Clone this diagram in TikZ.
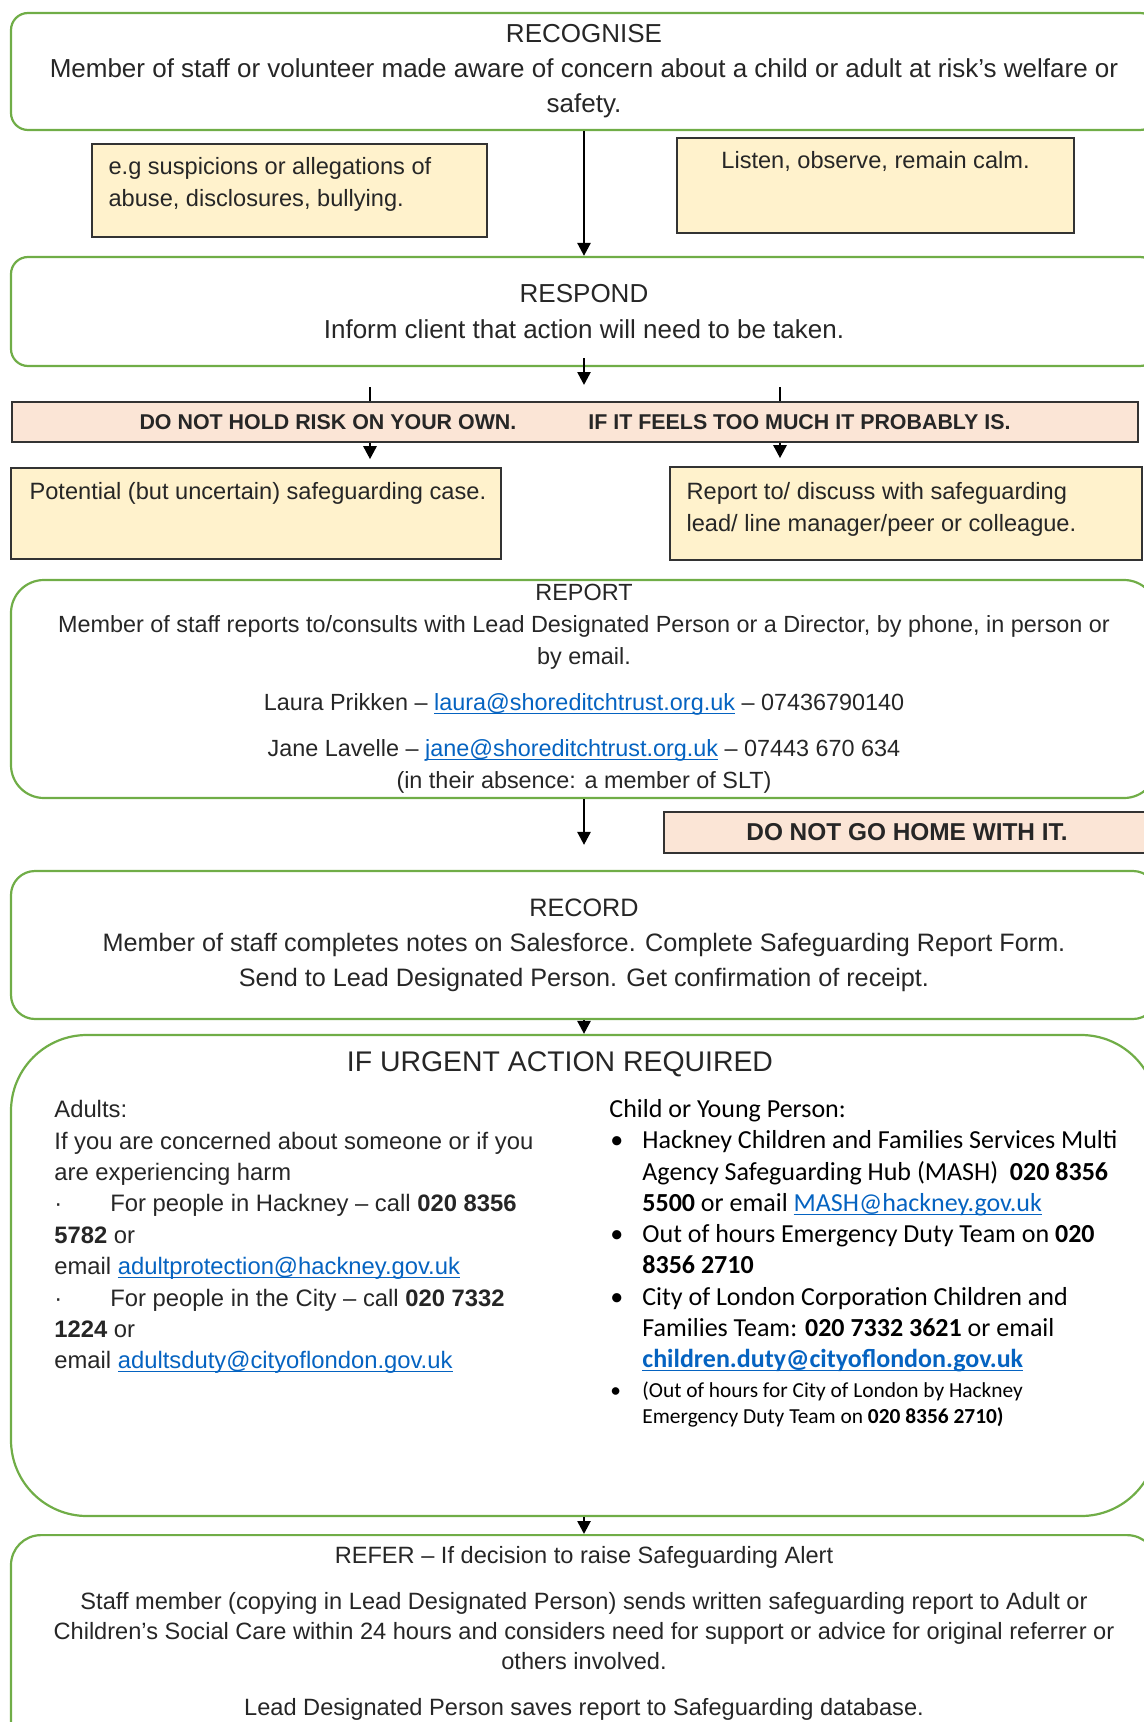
\documentclass[tikz,border=0pt]{standalone}
\usepackage{fontspec}
\setmainfont{Liberation Sans}
\newfontfamily\calibrifont{Carlito}
\usepackage{tikz}
\usetikzlibrary{arrows.meta,positioning,calc}
\definecolor{stagegreen}{HTML}{70AD47}
\definecolor{noteyellow}{HTML}{FFF2CC}
\definecolor{warnpink}{HTML}{FBE5D6}
\definecolor{linkblue}{HTML}{0563C1}
\definecolor{inktext}{HTML}{262626}
\newsavebox{\linkbox}
\newcommand{\maillink}[1]{\sbox{\linkbox}{\color{linkblue}#1}\textcolor{linkblue}{\rlap{\rule[-1.7pt]{\wd\linkbox}{0.6pt}}\usebox{\linkbox}}}
\newcommand{\listbullet}{\makebox[16.5pt][l]{\hspace{0.5pt}•}}
\newcommand{\listindent}{\hspace*{16.5pt}}
\tikzset{
    stagebox/.style={draw=stagegreen, line width=1.1pt, rounded corners=8.5pt, minimum width=573pt, inner sep=0pt, align=center, text=inktext},
    notebox/.style={draw=black!80, line width=0.8pt, fill=noteyellow, inner sep=0pt},
    notetext/.style={inner sep=0pt, align=left, text=inktext, font=\fontsize{11.8}{16}\selectfont},
    warnbox/.style={draw=black!80, line width=0.8pt, fill=warnpink, inner sep=0pt, text=inktext},
    flow/.style={-{Triangle[width=6.5pt,length=6.5pt]}, line width=1.3pt, black}
}
\begin{document}
\begin{tikzpicture}[x=0.5pt,y=-0.5pt]
    %Page frame - one unit is one pixel of the sheet, y runs down%
    %===========================================================
    \useasboundingbox (0,0) rectangle (1144,1722);
    \clip (0,0) rectangle (1144,1722);
    %RECOGNISE stage%
    %===========================================================
    \node[stagebox, minimum height=58.5pt, font=\fontsize{13}{17.5}\selectfont] (recognise) at (584,71.5) {RECOGNISE\\Member of staff or volunteer made aware of concern about a child or adult at risk’s welfare or\\safety.};
    \node[notebox, minimum width=197.5pt, minimum height=46.5pt] (examples) at (289.5,190.5) {}; %Examples note
    \node[notetext, below right=7pt and 8.5pt of examples.north west] (examplestext) {e.g suspicions or allegations of\\abuse, disclosures, bullying.};
    \node[notebox, minimum width=198.5pt, minimum height=47.5pt] (listen) at (875.5,185.5) {}; %Behaviour note
    \node[notetext, below=7pt of listen.north] (listentext) {Listen, observe, remain calm.};
    %RESPOND stage%
    %===========================================================
    \node[stagebox, minimum height=54.5pt, font=\fontsize{13}{18}\selectfont] (respond) at (584,311.5) {RESPOND\\Inform client that action will need to be taken.};
    \draw[flow] (recognise) -- (respond);
    \coordinate (splittip) at (584,385); %End of the short arrow under RESPOND
    \draw[flow] ([yshift=4.5pt]respond.south) -- (splittip);
    %Risk bar and the two branches%
    \node[warnbox, minimum width=563pt, minimum height=20pt, font=\bfseries\fontsize{10.7}{12}\selectfont] (riskbar) at (575,422) {DO NOT HOLD RISK ON YOUR OWN.\hspace{36pt}IF IT FEELS TOO MUCH IT PROBABLY IS.};
    \coordinate (leftstub) at (370,387);
    \coordinate (rightstub) at (780,387);
    \node[notebox, minimum width=245pt, minimum height=45.5pt] (potential) at (256,513.5) {};
    \node[notetext, below right=7.5pt and 9.5pt of potential.north west] (potentialtext) {Potential (but uncertain) safeguarding case.};
    \node[notebox, minimum width=236pt, minimum height=46.5pt] (discuss) at (906,513.5) {};
    \node[notetext, below right=8pt and 8.5pt of discuss.north west] (discusstext) {Report to/ discuss with safeguarding\\lead/ line manager/peer or colleague.};
    \draw[line width=1.3pt] (leftstub) -- (leftstub |- riskbar.north);
    \draw[line width=1.3pt] (rightstub) -- (rightstub |- riskbar.north);
    \draw[flow, shorten >=4pt] (riskbar.south -| leftstub) -- (potential.north -| leftstub);
    \draw[flow, shorten >=4pt] (riskbar.south -| rightstub) -- (discuss.north -| rightstub);
    %REPORT stage%
    %===========================================================
    \node[stagebox, rounded corners=16.5pt, minimum height=109pt, font=\fontsize{11.7}{16}\selectfont] (report) at (584,689) {REPORT\\Member of staff reports to/consults with Lead Designated Person or a Director, by phone, in person or\\by email.\\[7pt]Laura Prikken – \maillink{laura@shoreditchtrust.org.uk} – 07436790140\\[7pt]Jane Lavelle – \maillink{jane@shoreditchtrust.org.uk} – 07443 670 634\\(in their absence: a member of SLT)};
    \node[warnbox, minimum width=243pt, minimum height=20.5pt, font=\bfseries\fontsize{12.2}{14}\selectfont] (gohome) at (907,832.5) {DO NOT GO HOME WITH IT.};
    %RECORD stage%
    %===========================================================
    \node[stagebox, rounded corners=12pt, minimum height=74pt, font=\fontsize{12.6}{17.5}\selectfont] (record) at (584,945) {RECORD\\Member of staff completes notes on Salesforce. Complete Safeguarding Report Form.\\Send to Lead Designated Person. Get confirmation of receipt.};
    \draw[flow, shorten >=12.5pt] (report) -- (record);
    %IF URGENT ACTION REQUIRED%
    %===========================================================
    \node[stagebox, rounded corners=38pt, minimum height=240.5pt] (urgent) at (584,1275.5) {};
    \draw[flow] (record) -- (urgent);
    \node[inner sep=0pt, text=inktext, font=\fontsize{14.2}{17}\selectfont] (urgenttitle) at (560,1064) {IF URGENT ACTION REQUIRED};
    \node[anchor=north west, inner sep=0pt, align=left, text=inktext, font=\fontsize{11.9}{15.7}\selectfont] (adultcol) at (54,1100) {Adults:\\
        If you are concerned about someone or if you\\
        are experiencing harm\\
        \makebox[28pt][l]{·}For people in Hackney – call \textbf{020 8356}\\
        \textbf{5782} or\\
        email \maillink{adultprotection@hackney.gov.uk}\\
        \makebox[28pt][l]{·}For people in the City – call \textbf{020 7332}\\
        \textbf{1224} or\\
        email \maillink{adultsduty@cityoflondon.gov.uk}};
    \node[anchor=north west, inner sep=0pt, align=left, text=black, font=\calibrifont\fontsize{13}{15.65}\selectfont] (childcol) at (609,1099) {Child or Young Person:\\
        \listbullet Hackney Children and Families Services Multi\\
        \listindent Agency Safeguarding Hub (MASH)\ \ \textbf{020 8356}\\
        \listindent\textbf{5500} or email \maillink{MASH@hackney.gov.uk}\\
        \listbullet Out of hours Emergency Duty Team on \textbf{020}\\
        \listindent\textbf{8356 2710}\\
        \listbullet City of London Corporation Children and\\
        \listindent Families Team: \textbf{020 7332 3621} or email\\
        \listindent\textbf{\maillink{children.duty@cityoflondon.gov.uk}}\\[-1pt]
        {\fontsize{10.7}{13}\selectfont\listbullet (Out of hours for City of London by Hackney}\\[-2.5pt]
        {\fontsize{10.7}{13}\selectfont\listindent Emergency Duty Team on \textbf{020 8356 2710)}}};
    %REFER stage%
    %===========================================================
    \node[stagebox, rounded corners=15pt, minimum height=130pt, anchor=north] (refer) at (584,1534) {};
    \draw[flow] (urgent) -- (refer);
    \node[below=6pt of refer.north, inner sep=0pt, align=center, text=inktext, font=\fontsize{11.8}{15}\selectfont] (refertext) {REFER – If decision to raise Safeguarding Alert\\[8pt]
        Staff member (copying in Lead Designated Person) sends written safeguarding report to Adult or\\
        Children’s Social Care within 24 hours and considers need for support or advice for original referrer or\\
        others involved.\\[8pt]
        Lead Designated Person saves report to Safeguarding database.};
\end{tikzpicture}
\end{document}
